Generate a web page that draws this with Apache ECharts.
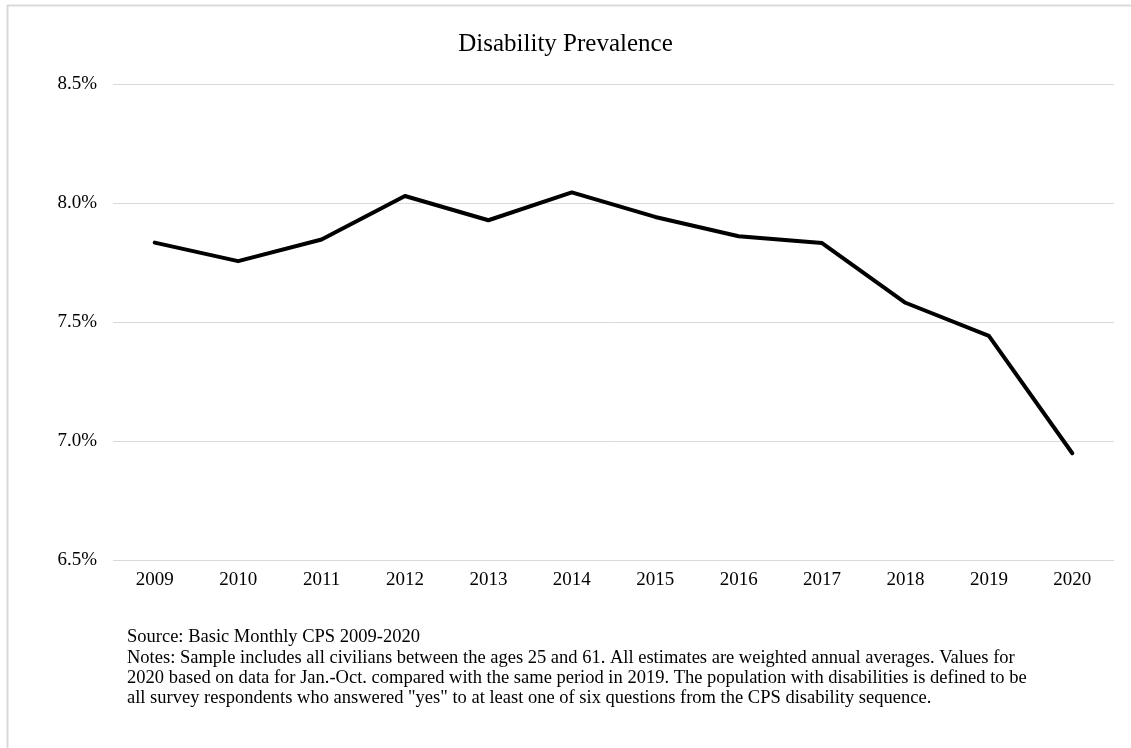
<!DOCTYPE html>
<html>
<head>
<meta charset="utf-8">
<script src="https://cdn.jsdelivr.net/npm/echarts@6/dist/echarts.min.js"></script>
<style>
html,body{margin:0;padding:0;background:#fff;}
#chart{width:1131px;height:748px;}
</style>
</head>
<body>
<div id="chart"></div>
<script>
const years = ['2009','2010','2011','2012','2013','2014','2015','2016','2017','2018','2019','2020'];
const prevalence = [7.835, 7.757, 7.848, 8.031, 7.929, 8.046, 7.943, 7.862, 7.833, 7.582, 7.443, 6.949];
const titleText = 'Disability Prevalence';
const sourceText = 'Source: Basic Monthly CPS 2009-2020';
const notesLines = [
  'Notes: Sample includes all civilians between the ages 25 and 61. All estimates are weighted annual averages. Values for',
  '2020 based on data for Jan.-Oct. compared with the same period in 2019. The population with disabilities is defined to be',
  'all survey respondents who answered "yes" to at least one of six questions from the CPS disability sequence.'
];

const serif = '"Liberation Serif", "Times New Roman", serif';
const chart = echarts.init(document.getElementById('chart'));
chart.setOption({
  animation: false,
  backgroundColor: '#fff',
  title: {
    text: titleText,
    left: 'center',
    top: 27,
    textStyle: {fontFamily: serif, fontSize: 25, fontWeight: 'normal', color: '#000'}
  },
  grid: {left: 113, right: 17, top: 84.5, bottom: 188, containLabel: false},
  xAxis: {
    type: 'category',
    data: years,
    boundaryGap: true,
    axisLine: {show: false},
    axisTick: {show: false},
    axisLabel: {fontFamily: serif, fontSize: 19, color: '#000', margin: 11}
  },
  yAxis: {
    type: 'value',
    min: 6.5,
    max: 8.5,
    interval: 0.5,
    axisLine: {show: false},
    axisTick: {show: false},
    splitLine: {lineStyle: {color: '#d9d9d9', width: 1}},
    axisLabel: {fontFamily: serif, fontSize: 19, color: '#000', margin: 16,
      formatter: v => v.toFixed(1) + '%'}
  },
  series: [{
    type: 'line',
    data: prevalence,
    symbol: 'none',
    lineStyle: {color: '#000', width: 4, cap: 'round', join: 'round'}
  }],
  graphic: [
    {type: 'line', shape: {x1: 7, y1: 5.5, x2: 1131, y2: 5.5}, style: {stroke: '#d9d9d9', lineWidth: 2}},
    {type: 'line', shape: {x1: 7.5, y1: 5, x2: 7.5, y2: 748}, style: {stroke: '#d9d9d9', lineWidth: 2}},
    {type: 'text', left: 127, top: 628, style: {text: sourceText, font: '18.5px ' + serif, fill: '#000'}},
    {type: 'text', left: 127, top: 648, style: {text: notesLines.join('\n'), font: '18.5px ' + serif, fill: '#000', lineHeight: 20}}
  ]
});
</script>
</body>
</html>
